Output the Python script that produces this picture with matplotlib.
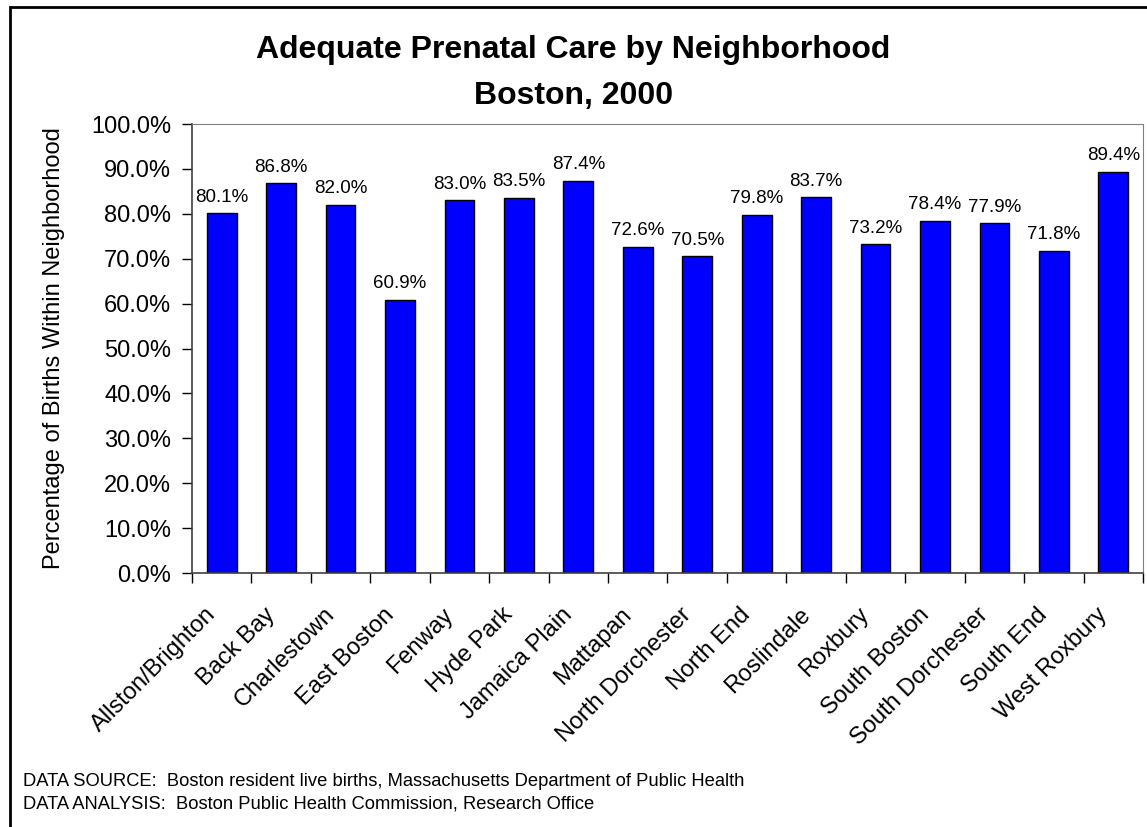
import matplotlib.pyplot as plt
import matplotlib.transforms as mtransforms
from matplotlib.patches import Rectangle
import numpy as np

plt.rcParams['font.family'] = ['Liberation Sans', 'DejaVu Sans']

neighborhoods = ['Allston/Brighton', 'Back Bay', 'Charlestown', 'East Boston', 'Fenway',
                 'Hyde Park', 'Jamaica Plain', 'Mattapan', 'North Dorchester', 'North End',
                 'Roslindale', 'Roxbury', 'South Boston', 'South Dorchester', 'South End',
                 'West Roxbury']
pct = [80.1, 86.8, 82.0, 60.9, 83.0, 83.5, 87.4, 72.6, 70.5, 79.8, 83.7, 73.2, 78.4, 77.9, 71.8, 89.4]
yticks = [0, 10, 20, 30, 40, 50, 60, 70, 80, 90, 100]

W, H = 1147, 827
fig = plt.figure(figsize=(W / 100, H / 100), dpi=100)
ax = fig.add_axes([0.1674, 0.3071, 0.8291, 0.5429])

x = np.arange(len(neighborhoods))
ax.bar(x, pct, width=0.5, color='#0000FF', edgecolor='black', linewidth=1)
for xi, v in zip(x, pct):
    ax.annotate(f'{v:.1f}%', (xi, v), xytext=(0, 5.5), textcoords='offset points',
                ha='center', va='bottom', fontsize=13.5)

ax.set_xlim(-0.5, len(neighborhoods) - 0.5)
ax.set_ylim(0, 100)
ax.set_yticks(yticks)
ax.set_yticklabels([f'{t:.1f}%' for t in yticks], fontsize=17)
ax.tick_params(axis='y', length=7, width=1, direction='out', pad=8)

# ticks between categories; labels on invisible minor ticks, nudged left of bar centers
ax.set_xticks(np.arange(len(neighborhoods) + 1) - 0.5)
ax.set_xticklabels([])
ax.set_xticks(x - 0.29, minor=True)
ax.set_xticklabels(neighborhoods, minor=True, rotation=45, ha='right',
                   rotation_mode='anchor', fontsize=17)
ax.tick_params(axis='x', which='major', length=7, width=1, direction='out')
ax.tick_params(axis='x', which='minor', length=0, pad=22)

for s in ['top', 'right']:
    ax.spines[s].set_color('#808080')
for s in ['left', 'bottom']:
    ax.spines[s].set_color('#404040')
    ax.spines[s].set_linewidth(1.2)

ax.set_ylabel('Percentage of Births Within Neighborhood', fontsize=17)
ax.yaxis.set_label_coords(54 / W, 0.5,
                          transform=mtransforms.blended_transform_factory(fig.transFigure, ax.transAxes))
ax.yaxis.label.set_va('center')

fig.text(0.5, 1 - 50 / H, 'Adequate Prenatal Care by Neighborhood', ha='center',
         va='center', fontsize=23, fontweight='bold')
fig.text(0.5, 1 - 96 / H, 'Boston, 2000', ha='center',
         va='center', fontsize=23, fontweight='bold')

fig.text(23 / W, 1 - 781 / H, 'DATA SOURCE:  Boston resident live births, Massachusetts Department of Public Health',
         fontsize=13.2, va='center')
fig.text(23 / W, 1 - 804 / H, 'DATA ANALYSIS:  Boston Public Health Commission, Research Office',
         fontsize=13.2, va='center')

fig.patches.append(Rectangle((10 / W, -0.01), 1.2, 1 - 7 / H + 0.01, transform=fig.transFigure,
                             fill=False, edgecolor='black', linewidth=2))

fig.savefig('out.png', dpi=100)
